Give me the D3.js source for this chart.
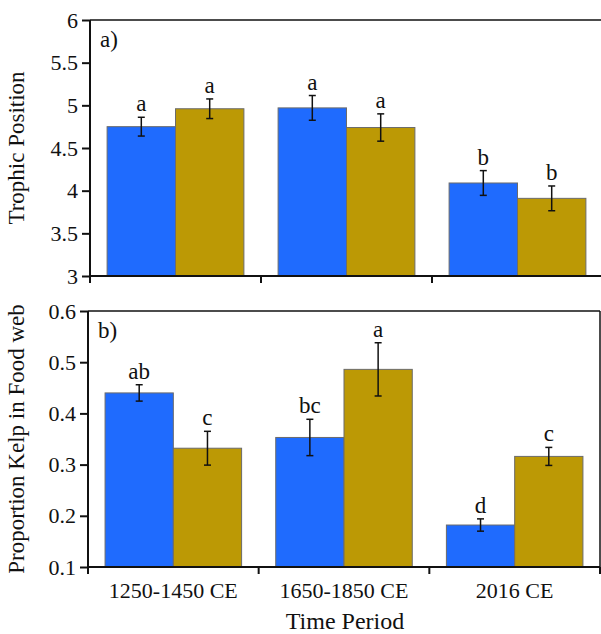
<!DOCTYPE html>
<html><head><meta charset="utf-8">
<script src="https://cdn.jsdelivr.net/npm/d3@7"></script>
<style>
html,body{margin:0;padding:0;background:#fff;}
svg{display:block;}
text{font-family:"Liberation Serif","Times New Roman",serif;fill:#111;}
</style></head>
<body>
<script>
const periods = ["1250-1450 CE", "1650-1850 CE", "2016 CE"];
const groups = ["Group 1", "Group 2"];
const groupColors = ["#1f6bfe", "#bc9905"];

const trophicG1 = [4.75, 4.97, 4.09];
const trophicG2 = [4.96, 4.74, 3.91];
const trophicErrG1 = [0.11, 0.145, 0.145];
const trophicErrG2 = [0.115, 0.16, 0.145];
const trophicLettersG1 = ["a", "a", "b"];
const trophicLettersG2 = ["a", "a", "b"];
const trophicTicks = [3, 3.5, 4, 4.5, 5, 5.5, 6];

const kelpG1 = [0.44, 0.353, 0.182];
const kelpG2 = [0.332, 0.486, 0.316];
const kelpErrG1 = [0.016, 0.0355, 0.012];
const kelpErrG2 = [0.033, 0.052, 0.0176];
const kelpLettersG1 = ["ab", "bc", "d"];
const kelpLettersG2 = ["c", "a", "c"];
const kelpTicks = [0.1, 0.2, 0.3, 0.4, 0.5, 0.6];

const W = 601, H = 634;
const svg = d3.select("body").append("svg").attr("width", W).attr("height", H);

function rows(v1, v2, e1, e2, l1, l2) {
  const out = [];
  periods.forEach((p, i) => {
    out.push({period: p, group: groups[0], value: v1[i], err: e1[i], letter: l1[i]});
    out.push({period: p, group: groups[1], value: v2[i], err: e2[i], letter: l2[i]});
  });
  return out;
}

function panel(opt) {
  const {left, right, top, bottom, domain, ticks, data, label, ytitle, titleX, showX, rightBorder} = opt;
  const g = svg.append("g");
  const x = d3.scaleBand().domain(periods).range([left, right]).padding(0);
  const xg = d3.scaleBand().domain(groups).range([0.1 * x.bandwidth(), 0.9 * x.bandwidth()]).padding(0);
  const y = d3.scaleLinear().domain(domain).range([bottom, top]);

  g.selectAll("rect.bar").data(data).join("rect")
    .attr("class", "bar")
    .attr("x", d => x(d.period) + xg(d.group))
    .attr("y", d => y(d.value))
    .attr("width", xg.bandwidth())
    .attr("height", d => y(domain[0]) - y(d.value))
    .attr("fill", d => groupColors[groups.indexOf(d.group)])
    .attr("stroke", "#6b6b6b")
    .attr("stroke-width", 1);

  const cx = d => x(d.period) + xg(d.group) + xg.bandwidth() / 2;
  const eb = g.selectAll("g.err").data(data).join("g").attr("class", "err")
    .attr("stroke", "#111").attr("stroke-width", 1.5);
  eb.append("line").attr("x1", cx).attr("x2", cx)
    .attr("y1", d => y(d.value + d.err)).attr("y2", d => y(d.value - d.err));
  eb.append("line").attr("x1", d => cx(d) - 3.5).attr("x2", d => cx(d) + 3.5)
    .attr("y1", d => y(d.value + d.err)).attr("y2", d => y(d.value + d.err));
  eb.append("line").attr("x1", d => cx(d) - 3.5).attr("x2", d => cx(d) + 3.5)
    .attr("y1", d => y(d.value - d.err)).attr("y2", d => y(d.value - d.err));

  g.selectAll("text.letter").data(data).join("text")
    .attr("class", "letter")
    .attr("x", cx)
    .attr("y", d => y(d.value + d.err) - 6)
    .attr("text-anchor", "middle")
    .attr("font-size", 23)
    .text(d => d.letter);

  const fr = g.append("g").attr("stroke", "#111").attr("fill", "none");
  fr.append("line").attr("x1", left).attr("x2", right).attr("y1", top).attr("y2", top).attr("stroke-width", 1.5);
  if (rightBorder) fr.append("line").attr("x1", right).attr("x2", right).attr("y1", top).attr("y2", bottom).attr("stroke-width", 1.5);

  const ya = d3.axisLeft(y).tickValues(ticks).tickSize(8).tickPadding(4).tickFormat(d3.format("~g"));
  const yAxis = g.append("g").attr("transform", `translate(${left},0)`).call(ya);
  yAxis.select(".domain").attr("d", `M0,${top}V${bottom + 7}`).attr("stroke", "#111").attr("stroke-width", 2);
  yAxis.selectAll(".tick line").attr("stroke", "#111").attr("stroke-width", 2);
  yAxis.selectAll(".tick text").attr("font-size", 22).attr("font-family", "Liberation Serif").attr("fill", "#111");

  const bounds = periods.map(p => x(p)).concat([right]);
  const xa = g.append("g");
  xa.append("line").attr("x1", left).attr("x2", right).attr("y1", bottom).attr("y2", bottom)
    .attr("stroke", "#111").attr("stroke-width", 2);
  xa.selectAll("line.bt").data(bounds.slice(1)).join("line").attr("class", "bt")
    .attr("x1", d => d).attr("x2", d => d).attr("y1", bottom).attr("y2", bottom + 7)
    .attr("stroke", "#111").attr("stroke-width", 2);
  if (showX) {
    xa.selectAll("text.xl").data(periods).join("text").attr("class", "xl")
      .attr("x", d => x(d) + x.bandwidth() / 2)
      .attr("y", bottom + 31)
      .attr("text-anchor", "middle")
      .attr("font-size", 22)
      .text(d => d);
  }

  g.append("text").attr("x", left + 10).attr("y", top + 27).attr("font-size", 23).text(label);

  g.append("text")
    .attr("transform", `translate(${titleX},${(top + bottom) / 2}) rotate(-90)`)
    .attr("text-anchor", "middle")
    .attr("font-size", 23)
    .text(ytitle);
}

panel({
  left: 90, right: 603, top: 20, bottom: 276,
  domain: [3, 6], ticks: trophicTicks,
  data: rows(trophicG1, trophicG2, trophicErrG1, trophicErrG2, trophicLettersG1, trophicLettersG2),
  label: "a)", ytitle: "Trophic Position", titleX: 24, showX: false, rightBorder: true
});

panel({
  left: 88, right: 600, top: 311, bottom: 567,
  domain: [0.1, 0.6], ticks: kelpTicks,
  data: rows(kelpG1, kelpG2, kelpErrG1, kelpErrG2, kelpLettersG1, kelpLettersG2),
  label: "b)", ytitle: "Proportion Kelp in Food web", titleX: 24, showX: true, rightBorder: true
});

svg.append("text").attr("x", 345).attr("y", 629).attr("text-anchor", "middle")
  .attr("font-size", 24).text("Time Period");
</script>
</body></html>
